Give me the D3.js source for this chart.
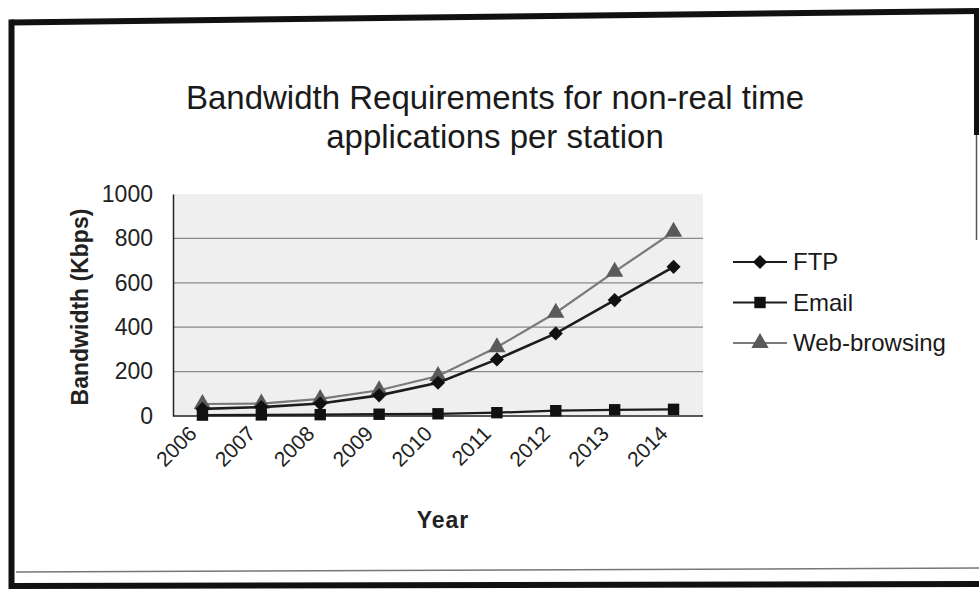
<!DOCTYPE html>
<html>
<head>
<meta charset="utf-8">
<script src="https://cdn.jsdelivr.net/npm/d3@7/dist/d3.min.js"></script>
<style>
  html, body { margin: 0; padding: 0; background: #fff; }
  svg { display: block; font-family: "Liberation Sans", Arial, sans-serif; }
</style>
</head>
<body>
<svg id="chart" width="979" height="589"></svg>
<script>
// Bandwidth per station (Kbps) by year
const years = ["2006", "2007", "2008", "2009", "2010", "2011", "2012", "2013", "2014"];
const ftp = [32, 40, 56, 93, 150, 255, 372, 522, 672];
const email = [4, 5, 6, 8, 10, 15, 24, 28, 30];
const webBrowsing = [54, 56, 77, 116, 180, 310, 465, 650, 830];
const yTicks = [0, 200, 400, 600, 800, 1000];
const seriesNames = ["FTP", "Email", "Web-browsing"];

const svg = d3.select("#chart");
const W = 979, H = 589;
const plot = { left: 173, right: 703, top: 194, bottom: 416 };

const x = d3.scalePoint().domain(years).range([plot.left, plot.right]).padding(0.5);
const y = d3.scaleLinear().domain([0, 1000]).range([plot.bottom, plot.top]);

// Outer frame (slightly skewed, like a scanned page)
const frame = svg.append("g").attr("fill", "none");
const topY = px => 22.5 - (px / W) * 11.5;
frame.append("path")
  .attr("d", d3.line()([[11.5, topY(0)], [W, topY(W)]]))
  .attr("stroke", "#111").attr("stroke-width", 6);
frame.append("path")
  .attr("d", d3.line()([[11.5, topY(0) - 3], [11.5, H]]))
  .attr("stroke", "#111").attr("stroke-width", 6);
frame.append("path")
  .attr("d", d3.line()([[976.5, topY(W) - 2], [976.5, 135]]))
  .attr("stroke", "#111").attr("stroke-width", 5);
frame.append("path")
  .attr("d", d3.line()([[976.5, 135], [976.5, 240]]))
  .attr("stroke", "#555").attr("stroke-width", 1.5);
frame.append("path")
  .attr("d", d3.line()([[14, 586], [W, 584]]))
  .attr("stroke", "#111").attr("stroke-width", 6);
frame.append("path")
  .attr("d", d3.line()([[16, 572], [W, 568]]))
  .attr("stroke", "#777").attr("stroke-width", 1.5);

// Title
const title = svg.append("text")
  .attr("text-anchor", "middle")
  .attr("font-size", 33)
  .attr("fill", "#1a1a1a");
title.append("tspan").attr("x", 495).attr("y", 109).text("Bandwidth Requirements for non-real time");
title.append("tspan").attr("x", 495).attr("y", 148).text("applications per station");

// Plot area background
svg.append("rect")
  .attr("x", plot.left).attr("y", plot.top)
  .attr("width", plot.right - plot.left).attr("height", plot.bottom - plot.top)
  .attr("fill", "#efefef");

// Gridlines
svg.append("g")
  .selectAll("line")
  .data(yTicks.filter(t => t > 0 && t < 1000))
  .join("line")
  .attr("x1", plot.left).attr("x2", plot.right)
  .attr("y1", d => y(d)).attr("y2", d => y(d))
  .attr("stroke", "#8a8a8a").attr("stroke-width", 1.3);

// Y axis
const yAxis = svg.append("g")
  .attr("transform", `translate(${plot.left},0)`)
  .call(d3.axisLeft(y).tickValues(yTicks).tickFormat(d3.format("d")).tickSize(0).tickPadding(20));
yAxis.select(".domain").attr("stroke", "#222").attr("stroke-width", 1.5);
yAxis.selectAll("text")
  .attr("font-size", 23).attr("fill", "#222")
  .attr("font-family", "'Liberation Sans', Arial, sans-serif");

// X axis
const xAxis = svg.append("g")
  .attr("transform", `translate(0,${plot.bottom})`)
  .call(d3.axisBottom(x).tickSize(0).tickPadding(0));
xAxis.select(".domain").attr("stroke", "#222").attr("stroke-width", 1.5)
  .attr("d", `M${plot.left},0H${plot.right}`);
xAxis.selectAll("text")
  .attr("font-size", 21).attr("fill", "#222")
  .attr("font-family", "'Liberation Sans', Arial, sans-serif")
  .attr("text-anchor", "end")
  .attr("dy", 0)
  .attr("y", 0)
  .attr("transform", "translate(-5,19) rotate(-45)");

// Axis titles
svg.append("text")
  .attr("transform", "translate(88,307) rotate(-90)")
  .attr("text-anchor", "middle")
  .attr("font-size", 23).attr("font-weight", "bold").attr("fill", "#222")
  .text("Bandwidth (Kbps)");
svg.append("text")
  .attr("x", 443).attr("y", 528)
  .attr("text-anchor", "middle")
  .attr("font-size", 23).attr("font-weight", "bold").attr("fill", "#222")
  .attr("letter-spacing", 1)
  .text("Year");

// Series definitions: diamond is a square turned 45 degrees
const series = [
  { name: seriesNames[0], values: ftp, line: "#1c1c1c", width: 2.6, marker: "#111", symbol: d3.symbolSquare, size: 100, rot: 45 },
  { name: seriesNames[1], values: email, line: "#1c1c1c", width: 2.2, marker: "#111", symbol: d3.symbolSquare, size: 130, rot: 0 },
  { name: seriesNames[2], values: webBrowsing, line: "#7a7a7a", width: 2.2, marker: "#5a5a5a", symbol: d3.symbolTriangle, size: 130, rot: 0 }
];

const lineGen = d3.line().x((d, i) => x(years[i])).y(d => y(d));

// Draw in back-to-front order: email, web, ftp
const order = [1, 2, 0];
order.forEach(k => {
  const s = series[k];
  svg.append("path")
    .datum(s.values)
    .attr("d", lineGen)
    .attr("fill", "none")
    .attr("stroke", s.line)
    .attr("stroke-width", s.width);
  svg.append("g")
    .selectAll("path")
    .data(s.values)
    .join("path")
    .attr("transform", (d, i) => `translate(${x(years[i])},${y(d)}) rotate(${s.rot})`)
    .attr("d", d3.symbol().type(s.symbol).size(s.size))
    .attr("fill", s.marker);
});

// Legend
const legendY = [262, 302.5, 343];
const legend = svg.append("g");
series.forEach((s, i) => {
  const g = legend.append("g").attr("transform", `translate(0,${legendY[i]})`);
  g.append("line")
    .attr("x1", 733).attr("x2", 787)
    .attr("stroke", s.line).attr("stroke-width", 2);
  g.append("path")
    .attr("transform", `translate(760,0) rotate(${s.rot})`)
    .attr("d", d3.symbol().type(s.symbol).size(s.size))
    .attr("fill", s.marker);
  g.append("text")
    .attr("x", 793).attr("y", 8)
    .attr("font-size", 24).attr("fill", "#1a1a1a")
    .text(s.name);
});
</script>
</body>
</html>
